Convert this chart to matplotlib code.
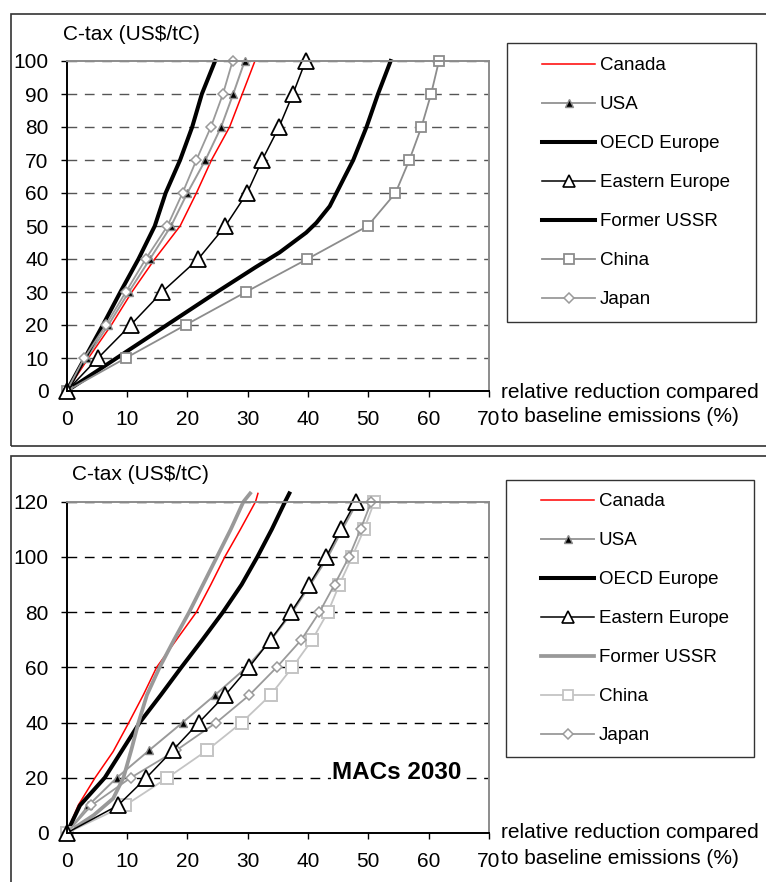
#MACs by region, 2010-ish (top) and 2030 (bottom)
import matplotlib
matplotlib.use("Agg")
import matplotlib.pyplot as plt
from matplotlib.lines import Line2D
from matplotlib.patches import Rectangle

plt.rcParams['font.family'] = ['Liberation Sans', 'DejaVu Sans']

W = 766.0; H = 882.0

#top chart data (reduction % at each tax level)
tax_top = [0, 10, 20, 30, 40, 50, 60, 70, 80, 90, 100]
canada_top = [0, 3.6, 7.4, 10.8, 14.6, 18.8, 21.5, 24.0, 27.0, 29.1, 31.2]
usa_top = [0, 3.3, 6.9, 10.3, 13.8, 17.3, 20.0, 23.0, 25.6, 27.6, 29.5]
oecd_top = [0, 3.0, 6.0, 8.9, 11.9, 14.6, 16.4, 18.8, 20.8, 22.4, 24.6]
easteu_top = [0, 5.2, 10.6, 15.8, 21.8, 26.3, 29.9, 32.4, 35.2, 37.5, 39.6]
china_top = [0, 9.8, 19.7, 29.7, 39.9, 49.9, 54.5, 56.8, 58.8, 60.4, 61.7]
japan_top = [0, 2.9, 6.5, 9.8, 13.1, 16.7, 19.2, 21.5, 23.9, 25.9, 27.5]
ussr_top_x = [0, 8.3, 16.6, 24.9, 31.3, 35.3, 39.7, 41.4, 43.6, 46.1, 47.5, 49.7, 51.6, 53.7]
ussr_top_y = [0, 10, 20, 30, 37.5, 42, 48, 51, 56, 65, 70, 80, 90, 100]

#bottom chart data (2030)
tax_bot = [0, 10, 20, 30, 40, 50, 60, 70, 80, 90, 100, 110, 120]
usa_bot = [0, 3.6, 8.3, 13.7, 19.2, 24.6, 29.8, 33.9, 37.4, 40.4, 43.3, 45.7, 48.2]
easteu_bot = [0, 8.5, 13.2, 17.6, 21.9, 26.3, 30.2, 33.8, 37.2, 40.2, 43.0, 45.4, 47.9]
japan_bot = [0, 4.1, 10.6, 18.2, 24.8, 30.3, 34.8, 38.9, 41.9, 44.4, 46.8, 48.7, 50.5]
china_bot = [0, 9.7, 16.7, 23.3, 29.0, 33.8, 37.4, 40.7, 43.3, 45.2, 47.3, 49.3, 51.0]
canada_bot_x = [0, 1.9, 4.7, 7.7, 10.3, 12.7, 14.9, 18.2, 21.5, 23.9, 26.2, 28.8, 31.3, 31.7]
canada_bot_y = [0, 10, 20, 29.5, 40, 50, 60, 70, 80, 90, 100, 110, 120, 123]
oecd_bot_x = [0, 2.2, 6.3, 9.2, 12.1, 15.6, 19.0, 22.5, 25.9, 29.0, 31.6, 34.0, 36.2, 36.9]
oecd_bot_y = [0, 10, 20, 30, 40, 50, 60, 70, 80, 90, 100, 110, 120, 123]
ussr_bot_x = [0, 4.5, 7.7, 9.4, 10.7, 11.9, 13.3, 15.4, 17.8, 20.3, 22.6, 24.9, 27.2, 29.3, 30.4]
ussr_bot_y = [0, 6.5, 12.5, 20, 30, 40, 50, 60, 70, 80, 90, 100, 110, 120, 123]

regions = ['Canada', 'USA', 'OECD Europe', 'Eastern Europe', 'Former USSR', 'China', 'Japan']

fig = plt.figure(figsize=(W/100, H/100), dpi=100)

def fx(px): return px/W
def fy(py): return 1 - py/H

def setup_axes(top_px, bot_px, ymax, ystep, gridcol):
    ax = fig.add_axes([fx(66.7), fy(bot_px), fx(489) - fx(66.7), fy(top_px) - fy(bot_px)])
    ax.set_xlim(0, 70)
    ax.set_ylim(0, ymax)
    ax.set_xticks(range(0, 71, 10))
    ax.set_yticks(range(0, ymax + 1, ystep))
    ax.tick_params(direction='out', length=4.5, width=1, labelsize=15, colors='black')
    ax.tick_params(axis='y', pad=8.5)
    ax.tick_params(axis='x', pad=9)
    ax.spines['left'].set_color('black'); ax.spines['bottom'].set_color('black')
    ax.spines['top'].set_color('#8c8c8c'); ax.spines['right'].set_color('#8c8c8c')
    for s in ax.spines.values():
        s.set_linewidth(1.4)
    ax.yaxis.grid(True, color=gridcol, lw=1.0, ls=(0, (7, 5.5)))
    ax.set_axisbelow(True)
    return ax

def legend_box(ax, handles, x0, y0, box):
    ax.legend(handles, regions, loc='upper left', bbox_to_anchor=(fx(x0), fy(y0)),
              bbox_transform=fig.transFigure, frameon=False, borderpad=0, borderaxespad=0,
              handlelength=2.85, handletextpad=0.22, labelspacing=1.17, fontsize=13.5)
    l, t, r, b = box
    fig.patches.append(Rectangle((fx(l), fy(b)), fx(r) - fx(l), fy(t) - fy(b),
                                 transform=fig.transFigure, fill=False, ec='#333333', lw=1.0))

#frames around the two panels
fig.patches.append(Rectangle((fx(11), fy(446)), fx(800) - fx(11), fy(14) - fy(446),
                             transform=fig.transFigure, fill=False, ec='#333333', lw=1.2))
fig.patches.append(Rectangle((fx(11), fy(900)), fx(800) - fx(11), fy(456) - fy(900),
                             transform=fig.transFigure, fill=False, ec='#333333', lw=1.2))

kw = dict(clip_on=False)

# ---- top chart
ax1 = setup_axes(61, 391, 100, 10, '#555555')
ax1.plot(canada_top, tax_top, color='red', lw=1.1, **kw)
ax1.plot(usa_top, tax_top, color='#9a9a9a', lw=1.4, marker='^', ms=6,
         mfc='black', mec='#8c8c8c', mew=1.0, **kw)
ax1.plot(oecd_top, tax_top, color='black', lw=2.9, **kw)
ax1.plot(ussr_top_x, ussr_top_y, color='black', lw=2.9, **kw)
ax1.plot(china_top, tax_top, color='#8c8c8c', lw=1.3, marker='s', ms=7,
         mfc='white', mec='#8c8c8c', mew=1.3, **kw)
ax1.plot(japan_top, tax_top, color='#9a9a9a', lw=1.3, marker='D', ms=5,
         mfc='white', mec='#9a9a9a', mew=1.1, **kw)
ax1.plot(easteu_top, tax_top, color='black', lw=1.1, marker='^', ms=12,
         mfc='white', mec='black', mew=1.3, **kw)

h_top = [Line2D([], [], color='red', lw=1.1),
         Line2D([], [], color='#9a9a9a', lw=1.4, marker='^', ms=6, mfc='black', mec='#8c8c8c'),
         Line2D([], [], color='black', lw=2.9),
         Line2D([], [], color='black', lw=1.1, marker='^', ms=9, mfc='white', mec='black', mew=1.2),
         Line2D([], [], color='black', lw=2.9),
         Line2D([], [], color='#8c8c8c', lw=1.3, marker='s', ms=7, mfc='white', mec='#8c8c8c', mew=1.3),
         Line2D([], [], color='#9a9a9a', lw=1.3, marker='D', ms=5, mfc='white', mec='#9a9a9a', mew=1.1)]
legend_box(ax1, h_top, 542, 57, (507, 43, 756, 322))

fig.text(fx(63), fy(34), 'C-tax (US$/tC)', fontsize=15, ha='left', va='center')
fig.text(fx(501), fy(392), 'relative reduction compared', fontsize=15, ha='left', va='center')
fig.text(fx(501), fy(417), 'to baseline emissions (%)', fontsize=15, ha='left', va='center')

# ---- bottom chart
ax2 = setup_axes(501.7, 833, 120, 20, 'black')
ax2.plot(canada_bot_x, canada_bot_y, color='red', lw=1.1, **kw)
ax2.plot(usa_bot, tax_bot, color='#9a9a9a', lw=1.4, marker='^', ms=6,
         mfc='black', mec='#8c8c8c', mew=1.0, **kw)
ax2.plot(oecd_bot_x, oecd_bot_y, color='black', lw=2.9, **kw)
ax2.plot(ussr_bot_x, ussr_bot_y, color='#999999', lw=2.7, **kw)
ax2.plot(china_bot, tax_bot, color='#c4c4c4', lw=1.3, marker='s', ms=8,
         mfc='white', mec='#c4c4c4', mew=1.4, **kw)
ax2.plot(japan_bot, tax_bot, color='#9a9a9a', lw=1.3, marker='D', ms=5,
         mfc='white', mec='#9a9a9a', mew=1.1, **kw)
ax2.plot(easteu_bot, tax_bot, color='black', lw=1.1, marker='^', ms=12,
         mfc='white', mec='black', mew=1.3, **kw)

h_bot = [Line2D([], [], color='red', lw=1.1),
         Line2D([], [], color='#9a9a9a', lw=1.4, marker='^', ms=6, mfc='black', mec='#8c8c8c'),
         Line2D([], [], color='black', lw=2.9),
         Line2D([], [], color='black', lw=1.1, marker='^', ms=9, mfc='white', mec='black', mew=1.2),
         Line2D([], [], color='#999999', lw=2.7),
         Line2D([], [], color='#c4c4c4', lw=1.3, marker='s', ms=7, mfc='white', mec='#c4c4c4', mew=1.3),
         Line2D([], [], color='#9a9a9a', lw=1.3, marker='D', ms=5, mfc='white', mec='#9a9a9a', mew=1.1)]
legend_box(ax2, h_bot, 541, 493, (506, 480, 754, 757))

ax2.text(54.7, 21.8, 'MACs 2030', fontsize=17.5, fontweight='bold', ha='center', va='center',
         bbox=dict(facecolor='white', edgecolor='none', pad=1))
fig.text(fx(72), fy(475), 'C-tax (US$/tC)', fontsize=15, ha='left', va='center')
fig.text(fx(501), fy(833), 'relative reduction compared', fontsize=15, ha='left', va='center')
fig.text(fx(501), fy(859), 'to baseline emissions (%)', fontsize=15, ha='left', va='center')

fig.savefig('out.png', dpi=100)
